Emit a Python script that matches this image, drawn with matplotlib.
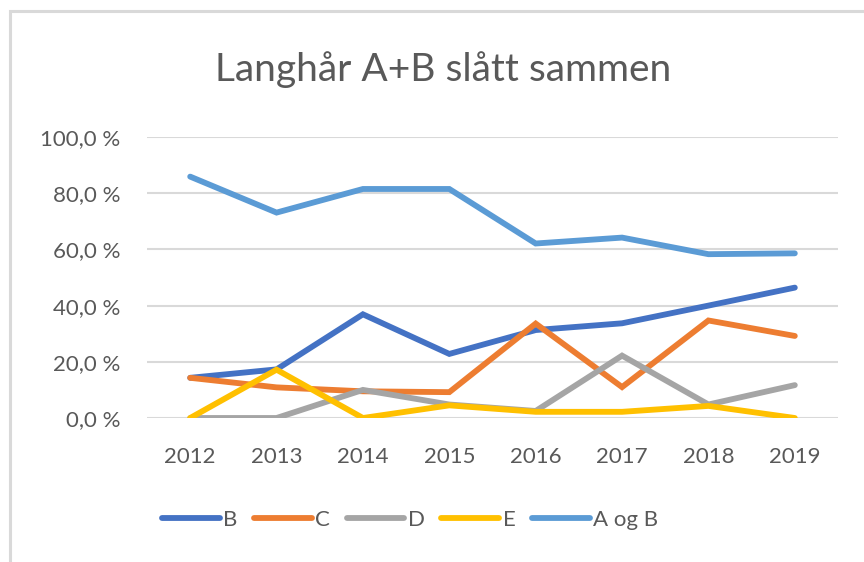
import matplotlib
matplotlib.use("Agg")
import matplotlib.pyplot as plt
from matplotlib.patches import Rectangle
from matplotlib.ticker import FuncFormatter

years = ["2012", "2013", "2014", "2015", "2016", "2017", "2018", "2019"]
b_vals = [14.3, 17.3, 36.9, 22.8, 31.3, 33.7, 40.0, 46.4]
c_vals = [14.3, 10.9, 9.5, 9.2, 33.6, 11.0, 34.7, 29.2]
d_vals = [0.0, 0.0, 10.0, 4.8, 2.5, 22.2, 4.8, 11.7]
e_vals = [0.0, 17.2, 0.0, 4.5, 2.2, 2.2, 4.3, 0.0]
aogb_vals = [85.9, 73.1, 81.5, 81.5, 62.1, 64.2, 58.3, 58.6]

series = [
    ("B", b_vals, "#4472C4"),
    ("C", c_vals, "#ED7D31"),
    ("D", d_vals, "#A5A5A5"),
    ("E", e_vals, "#FFC000"),
    ("A og B", aogb_vals, "#5B9BD5"),
]

txt = "#595959"
lw = 4.2
plt.rcParams['font.family'] = ['Lato', 'DejaVu Sans']

fig = plt.figure(figsize=(8.64, 5.62), dpi=100)
fig.patches.append(Rectangle((10 / 864, -0.05), 1.0, 1 - 11 / 562 + 0.05,
                             transform=fig.transFigure, fill=False,
                             edgecolor="#d9d9d9", linewidth=2.2))

ax = fig.add_axes([147 / 864, 1 - 418 / 562, (838 - 147) / 864, (418 - 137) / 562])
x = list(range(len(years)))
for name, vals, col in series:
    ax.plot(x, vals, color=col, linewidth=lw, solid_capstyle="round",
            solid_joinstyle="miter", label=name)

ax.set_xlim(-0.5, len(years) - 0.5)
ax.set_ylim(0, 100)
ax.set_yticks([0, 20, 40, 60, 80, 100])
ax.yaxis.set_major_formatter(FuncFormatter(lambda v, p: f"{v:.1f} %".replace(".", ",")))
ax.set_xticks(x)
ax.set_xticklabels(years)
ax.grid(axis="y", color="#d9d9d9", linewidth=1.5)
ax.set_axisbelow(True)
for s in ax.spines.values():
    s.set_visible(False)
ax.tick_params(axis="both", length=0, labelsize=16, labelcolor=txt)
ax.tick_params(axis="y", pad=19)
ax.tick_params(axis="x", pad=21)

fig.text(443 / 864, 1 - 70 / 562, "Langhår A+B slått sammen", ha="center", va="center",
         fontsize=28, color=txt)

leg = fig.legend(loc="center", bbox_to_anchor=(410 / 864, 1 - 520 / 562), ncol=5,
                 frameon=False, fontsize=16, handlelength=2.6, handletextpad=0.15,
                 columnspacing=0.75, labelcolor=txt)
for line in leg.get_lines():
    line.set_linewidth(lw)
    line.set_solid_capstyle("round")

fig.savefig("out.png", dpi=100)
